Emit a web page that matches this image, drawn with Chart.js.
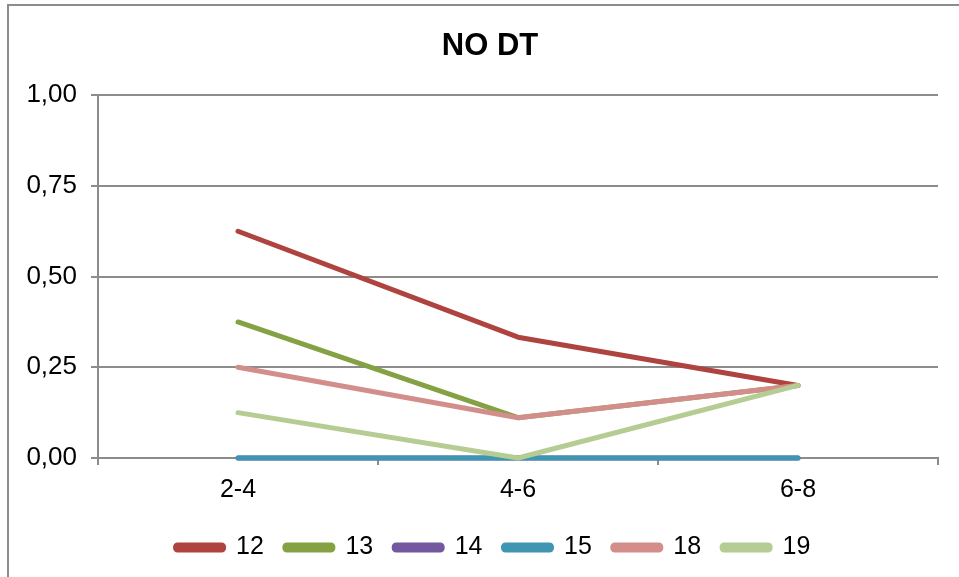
<!DOCTYPE html>
<html>
<head>
<meta charset="utf-8">
<script src="https://cdn.jsdelivr.net/npm/chart.js@4"></script>
<style>
  html, body { margin: 0; padding: 0; background: #fff; overflow: hidden; }
  #wrap { position: relative; width: 959px; height: 577px; }
  #frame {
    position: absolute; left: 7px; top: 4px; width: 1000px; height: 700px;
    border: 2px solid #8c8c8c; box-sizing: border-box;
  }
  canvas { position: absolute; left: 0; top: 0; }
</style>
</head>
<body>
<div id="wrap">
  <div id="frame"></div>
  <canvas id="chart" width="959" height="577"></canvas>
</div>
<script>
// age bands on the x axis
const categories = ['2-4', '4-6', '6-8'];

const seriesNames = ['12', '13', '14', '15', '18', '19'];
const s12 = [0.625, 0.333, 0.2];
const s13 = [0.375, 0.111, 0.2];
const s14 = [0, 0, 0];
const s15 = [0, 0, 0];
const s18 = [0.25, 0.111, 0.2];
const s19 = [0.125, 0, 0.2];
const seriesColors = ['#AE433F', '#84A244', '#7358A0', '#3F96B2', '#D38E8C', '#B5CC92'];

const yTicks = [0, 0.25, 0.5, 0.75, 1];

const font = 'Arial, "Liberation Sans", sans-serif';
const gray = '#8c8c8c';

const values = [s12, s13, s14, s15, s18, s19];
// Chart.js paints dataset 0 last, so feed them reversed and flip the legend back
const datasets = values.map((v, i) => ({
  label: seriesNames[i],
  data: v,
  borderColor: seriesColors[i],
  backgroundColor: seriesColors[i],
  borderWidth: 5,
  borderCapStyle: 'round',
  borderJoinStyle: 'round',
  pointRadius: 0,
  pointHoverRadius: 0,
  tension: 0,
  clip: false,
})).reverse();

// title and legend sit a bit right of the canvas centre in the original
const nudgeBlocks = {
  id: 'nudgeBlocks',
  afterLayout(chart) {
    [[chart.titleBlock, 21], [chart.legend, 24]].forEach(([box, dx]) => {
      if (!box) return;
      box.left += dx;
      box.right += dx;
    });
  },
};

new Chart(document.getElementById('chart'), {
  type: 'line',
  data: { labels: categories, datasets },
  plugins: [nudgeBlocks],
  options: {
    responsive: false,
    animation: false,
    layout: { padding: { left: 0, right: 21, top: 0, bottom: 7 } },
    scales: {
      x: {
        offset: true,
        grid: {
          offset: true,
          drawOnChartArea: false,
          color: gray,
          tickLength: 7,
          lineWidth: 2,
        },
        border: { color: gray, width: 2 },
        ticks: {
          color: '#000',
          font: { family: font, size: 25 },
          padding: 10,
        },
        afterFit: (s) => { s.height = 56; },
      },
      y: {
        min: 0,
        max: 1,
        afterBuildTicks: (s) => { s.ticks = yTicks.map(v => ({ value: v })); },
        grid: { color: gray, lineWidth: 2, tickLength: 7 },
        border: { color: gray, width: 2 },
        ticks: {
          color: '#000',
          font: { family: font, size: 26 },
          padding: 14,
          callback: (v) => v.toFixed(2).replace('.', ','),
        },
        afterFit: (s) => { s.width = 98; },
      },
    },
    plugins: {
      title: {
        display: true,
        text: 'NO DT',
        color: '#000',
        font: { family: font, size: 31, weight: 'bold' },
        padding: { top: 28, bottom: 30 },
      },
      legend: {
        position: 'bottom',
        reverse: true,
        labels: {
          color: '#000',
          font: { family: font, size: 25 },
          boxWidth: 48,
          boxHeight: 5,
          useBorderRadius: true,
          borderRadius: 2,
          padding: 21,
        },
      },
      tooltip: { enabled: false },
    },
  },
});
</script>
</body>
</html>
